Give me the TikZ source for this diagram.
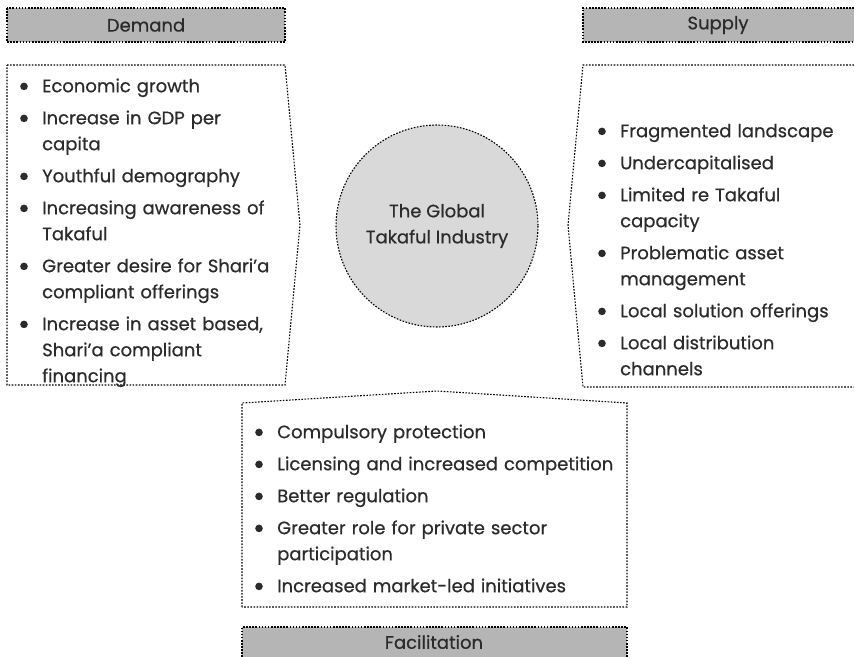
\documentclass[tikz,border=0pt]{standalone}
\usepackage{fontspec}
\setmainfont{Poppins}[UprightFeatures={FakeBold=0.6}]
\definecolor{hdr}{HTML}{B5B5B5}
\definecolor{circ}{HTML}{D9D9D9}
\definecolor{txt}{HTML}{2B2B2B}
\newcommand{\bulmark}{\raisebox{2pt}{\tikz\fill[txt] (0pt,0pt) circle (3.8pt);}}
\newcommand{\bul}[1]{\par\hangindent=22pt\hangafter=1\noindent\makebox[22pt][l]{\bulmark}#1\par\vspace{6pt}}
\tikzset{
  dotline/.style={draw=black, line width=1.1pt, dash pattern=on 1.6pt off 1.5pt},
  hdrfill/.style={fill=hdr},
  lst/.style={anchor=north west, inner sep=0pt, align=left, text=txt,
     font=\fontsize{18}{26}\selectfont, text width=#1},
  lbl/.style={inner sep=0pt, text=txt, font=\fontsize{18}{26}\selectfont, align=center}
}
\begin{document}
\begin{tikzpicture}[x=1pt,y=-1pt]
\useasboundingbox (0,0) rectangle (854,657);
% headers
\fill[hdrfill] (7,8) rectangle (285,42);
\draw[dotline] (7,8) rectangle (285,42);
\node[lbl] (demand) at (146,25) {Demand};
\fill[hdrfill] (583,8) rectangle (854,42);
\draw[dotline] (854,8) -- (583,8) -- (583,42) -- (854,42);
\node[lbl] (supply) at (718,25) {Supply};
\fill[hdrfill] (242,627) rectangle (627,657);
\draw[dotline] (242,657) -- (242,627) -- (627,627) -- (627,657);
\node[lbl] (facil) at (434,642) {Facilitation};
% boxes
\draw[dotline] (7,65) -- (285,65) -- (300,225) -- (285,385) -- (7,385) -- cycle;
\draw[dotline] (854,65) -- (583,65) -- (568,225) -- (583,387) -- (854,387);
\draw[dotline] (242,607) -- (242,403) -- (437,391) -- (627,403) -- (627,607) -- cycle;
% circle
\draw[dotline, fill=circ] (437,226) circle (101);
\node[lbl] (core) at (437,226) {The Global\\Takaful Industry};
% lists
\node[lst=280pt] (dlist) at (20,66) {%
\bul{Economic growth}
\bul{Increase in GDP per\newline capita}
\bul{Youthful demography}
\bul{Increasing awareness of\newline Takaful}
\bul{Greater desire for Shari’a\newline compliant offerings}
\bul{Increase in asset based,\newline Shari’a compliant\newline financing}};
\node[lst=260pt] (slist) at (598,111) {%
\bul{Fragmented landscape}
\bul{Undercapitalised}
\bul{Limited re Takaful\newline capacity}
\bul{Problematic asset\newline management}
\bul{Local solution offerings}
\bul{Local distribution\newline channels}};
\node[lst=380pt] (flist) at (255,412) {%
\bul{Compulsory protection}
\bul{Licensing and increased competition}
\bul{Better regulation}
\bul{Greater role for private sector\newline participation}
\bul{Increased market-led initiatives}};
\end{tikzpicture}
\end{document}
